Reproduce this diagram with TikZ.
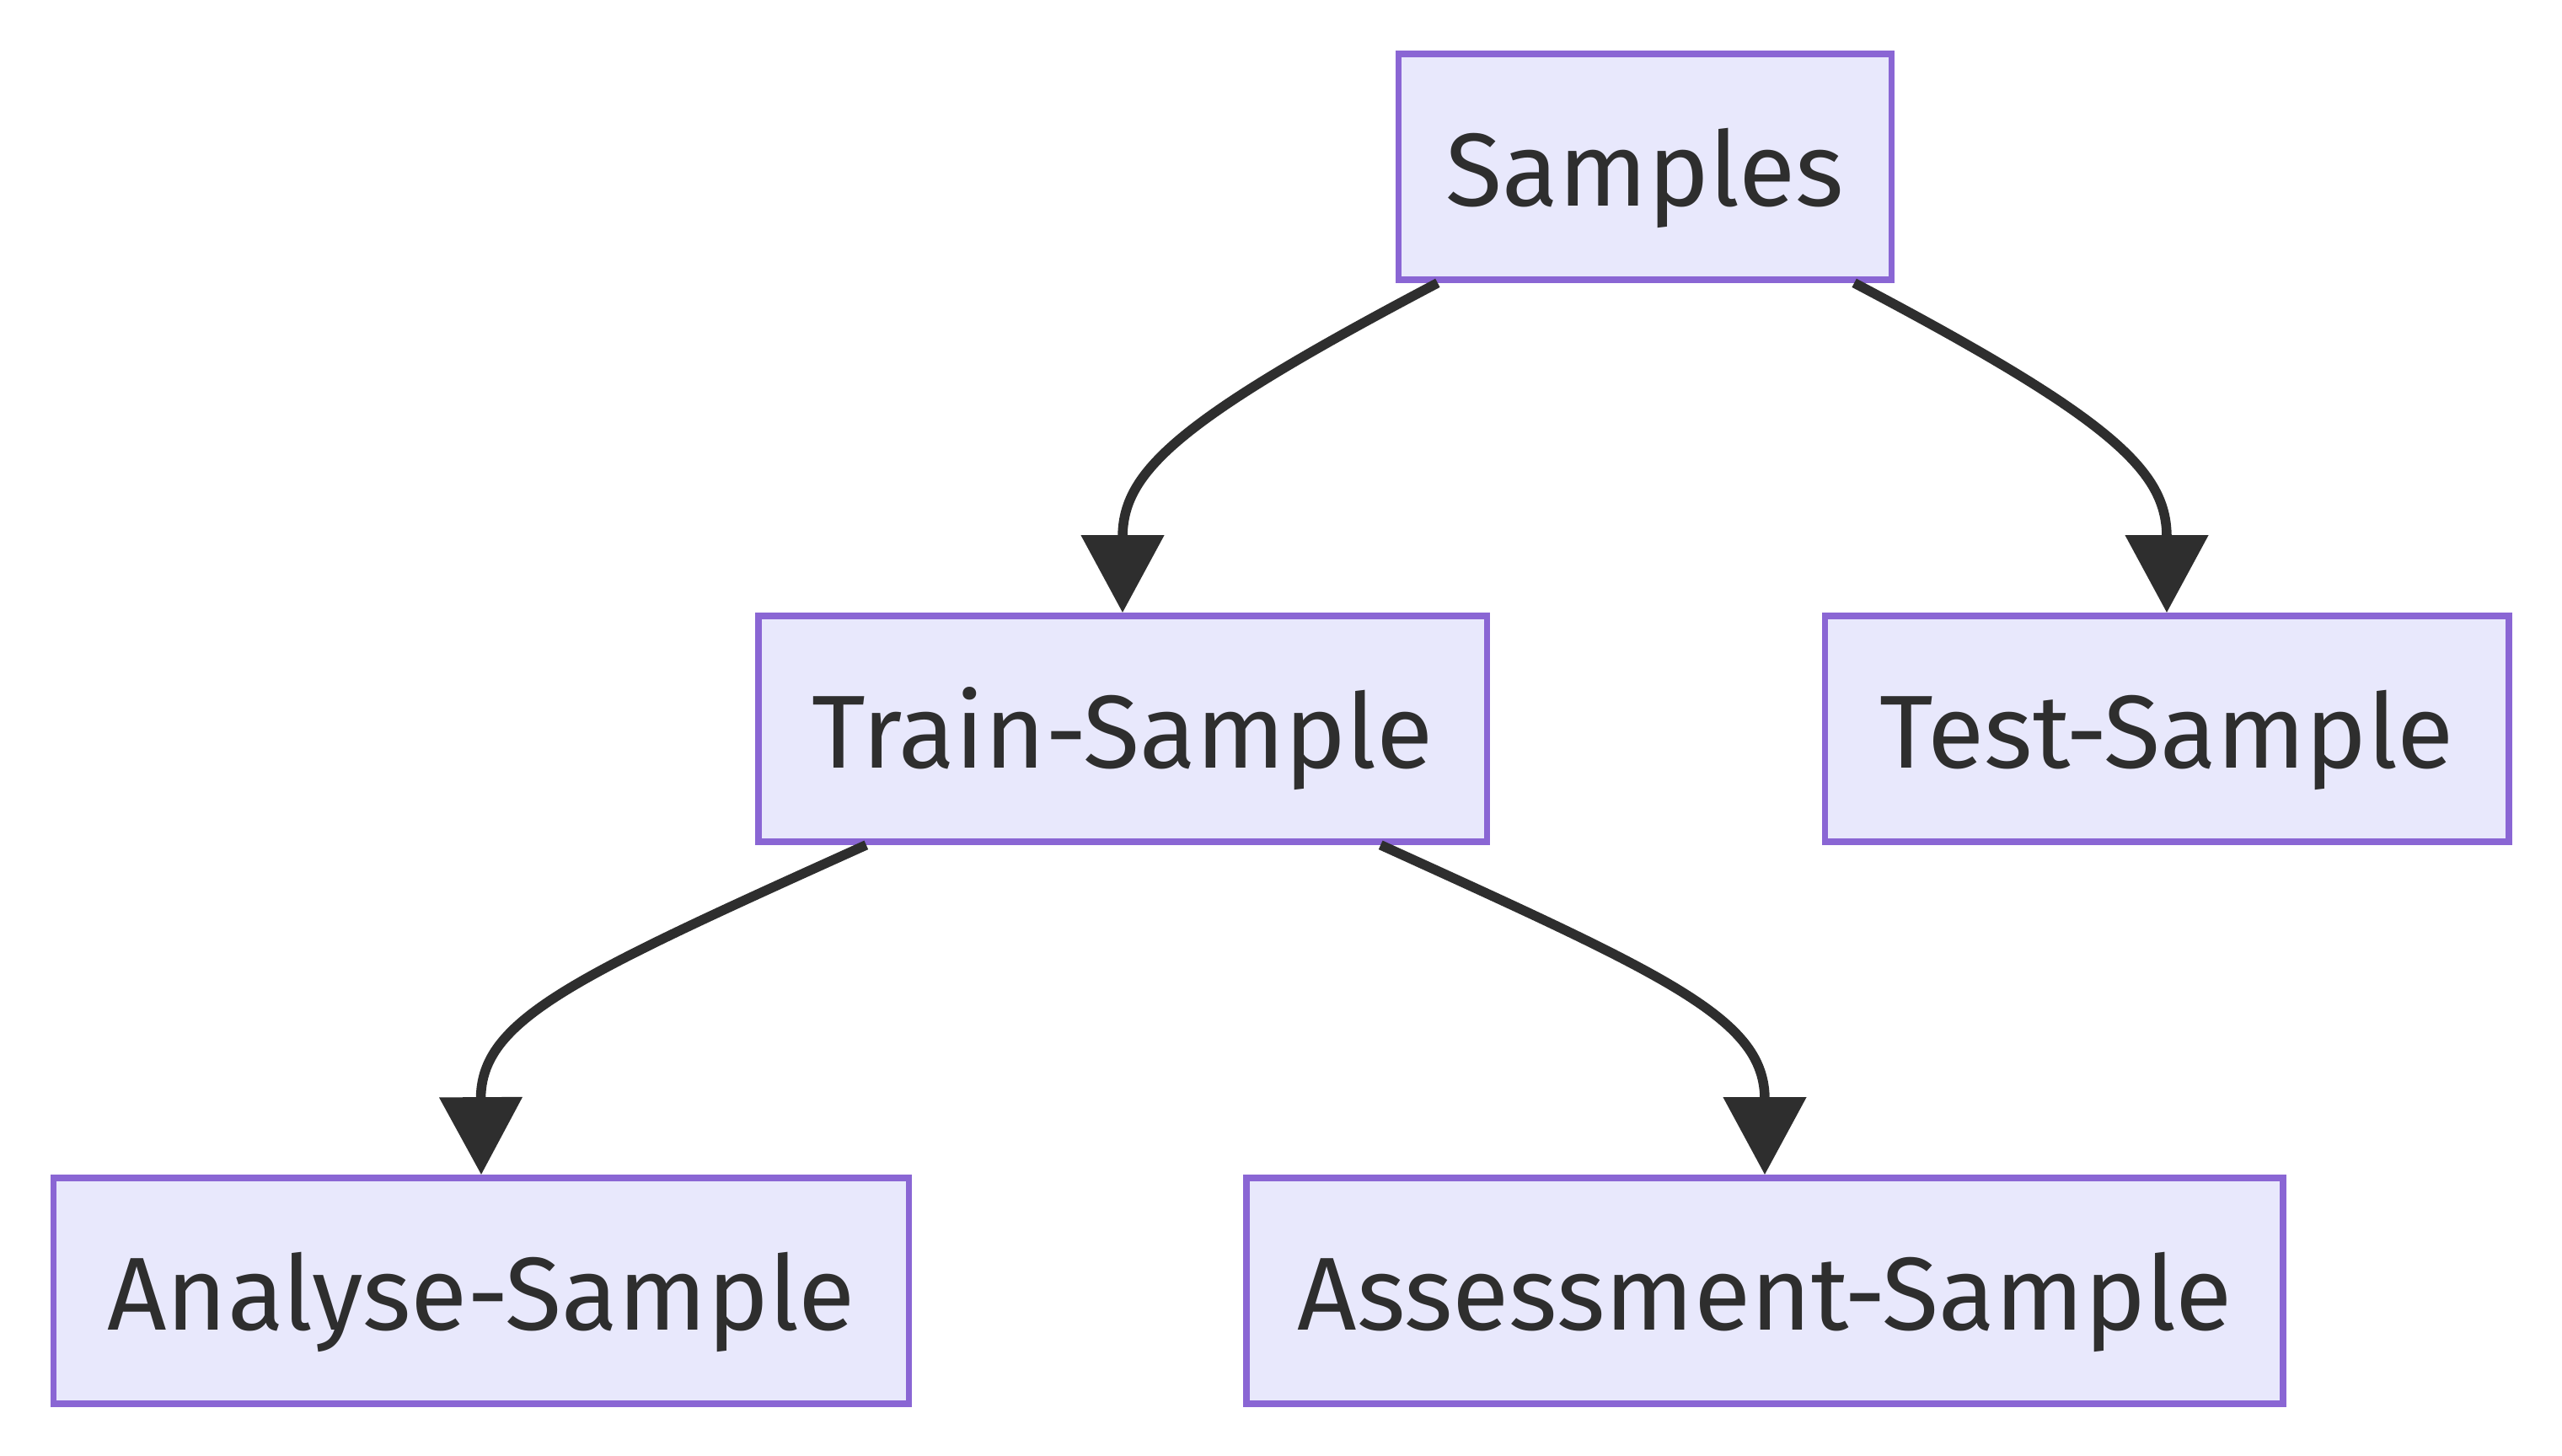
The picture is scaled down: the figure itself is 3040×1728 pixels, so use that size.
\documentclass[tikz,border=0pt]{standalone}
\usepackage{fontspec}
\setmainfont{Fira Sans}
\usetikzlibrary{arrows.meta}
\definecolor{nodefill}{HTML}{E8E8FC}
\definecolor{nodeline}{HTML}{8A66D4}
\definecolor{ink}{HTML}{2E2E2E}
\begin{document}
\begin{tikzpicture}[x=0.01cm,y=-0.01cm,
  box/.style={draw=nodeline,fill=nodefill,line width=0.075cm,inner sep=0pt,
    minimum height=2.68cm,text=ink,font=\fontsize{35}{42}\selectfont,
    text height=1.42cm,text depth=0.5cm},
  edge/.style={draw=ink,line width=0.115cm,-{Triangle[length=0.92cm,width=0.96cm]}}]
\useasboundingbox (0,0) rectangle (3040,1728);
\node[box,minimum width=5.85cm] (samples) at (1952,198) {Samples};
\node[box,minimum width=8.64cm] (train) at (1332,865) {Train-Sample};
\node[box,minimum width=8.11cm] (test) at (2571,865) {Test-Sample};
\node[box,minimum width=10.14cm] (analyse) at (571,1532) {Analyse-Sample};
\node[box,minimum width=12.29cm] (assess) at (2094,1532) {Assessment-Sample};
\draw[edge] ([xshift=-2.46cm]samples.south) .. controls (1396,499) and (1332,560) .. (train.north);
\draw[edge] ([xshift=2.48cm]samples.south) .. controls (2510,499) and (2571,560) .. (test.north);
\draw[edge] ([xshift=-3.04cm]train.south) .. controls (680,1160) and (570,1210) .. (analyse.north);
\draw[edge] ([xshift=3.06cm]train.south) .. controls (1984,1160) and (2094,1210) .. (assess.north);
\end{tikzpicture}
\end{document}
